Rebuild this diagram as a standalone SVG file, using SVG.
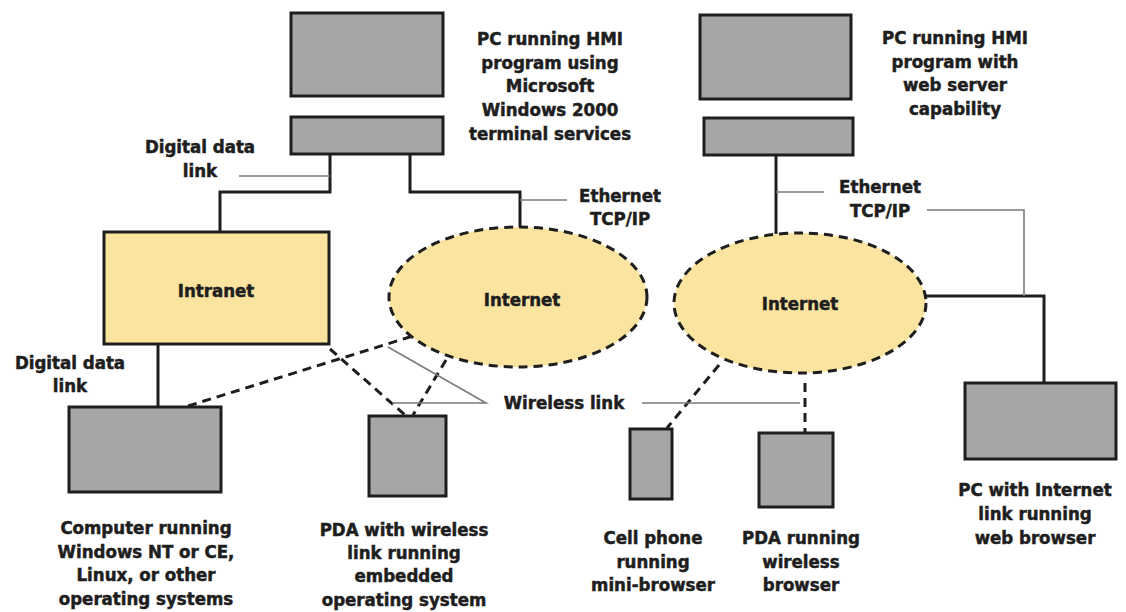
<svg xmlns="http://www.w3.org/2000/svg" width="1126" height="612" viewBox="0 0 1126 612">
<style>
.dev{fill:#a6a6a6;stroke:#1e1e1e;stroke-width:3}
.net{fill:#fbe4a0;stroke:#1e1e1e;stroke-width:3}
.cloud{fill:#fbe4a0;stroke:#1e1e1e;stroke-width:3;stroke-dasharray:9 6}
.wire{fill:none;stroke:#1e1e1e;stroke-width:3}
.dash{fill:none;stroke:#1e1e1e;stroke-width:3;stroke-dasharray:9 6}
.lead{fill:none;stroke:#7a7a7a;stroke-width:1.6}
text{font-family:"DejaVu Sans Condensed","DejaVu Sans",sans-serif;font-weight:bold;font-size:18.5px;fill:#1e1e1e;stroke:#1e1e1e;stroke-width:0.5;text-anchor:middle}
</style>
<rect width="1126" height="612" fill="#ffffff"/>
<g id="connectors">
<polyline class="wire" points="330,154 330,192 220,192 220,232"/>
<polyline class="wire" points="410,154 410,192 520,192 520,228"/>
<line class="wire" x1="776" y1="155" x2="776" y2="234"/>
<polyline class="wire" points="925,296 1044,296 1044,383"/>
<line class="wire" x1="158" y1="344" x2="158" y2="407"/>
<line class="dash" x1="188" y1="406" x2="413" y2="336"/>
<line class="dash" x1="330" y1="349" x2="405" y2="415"/>
<line class="dash" x1="446" y1="360" x2="413" y2="415"/>
<line class="dash" x1="719" y1="365" x2="667" y2="428"/>
<line class="dash" x1="805" y1="383" x2="805" y2="432"/>
<line class="lead" x1="239" y1="176" x2="330" y2="176"/>
<line class="lead" x1="520" y1="200" x2="567" y2="200"/>
<line class="lead" x1="776" y1="192" x2="824" y2="192"/>
<polyline class="lead" points="927,210 1024,210 1024,296"/>
<polyline class="lead" points="388,347 486,403 392,403"/>
<line class="lead" x1="642" y1="403" x2="800" y2="403"/>
</g>
<g id="pc-hmi-terminal">
<rect class="dev" x="291" y="13" width="152" height="83"/>
<rect class="dev" x="291" y="117" width="152" height="37"/>
<text x="550" y="45">PC running HMI</text>
<text x="550" y="69">program using</text>
<text x="550" y="92">Microsoft</text>
<text x="550" y="116">Windows 2000</text>
<text x="550" y="140">terminal services</text>
</g>
<g id="pc-hmi-web">
<rect class="dev" x="700" y="15" width="151" height="84"/>
<rect class="dev" x="704" y="118" width="149" height="37"/>
<text x="955" y="44">PC running HMI</text>
<text x="955" y="68">program with</text>
<text x="955" y="91">web server</text>
<text x="955" y="115">capability</text>
</g>
<g id="label-ddl-top"><text x="200" y="153">Digital data</text><text x="200" y="177">link</text></g>
<g id="label-eth-left"><text x="620" y="202">Ethernet</text><text x="620" y="225">TCP/IP</text></g>
<g id="label-eth-right"><text x="880" y="193">Ethernet</text><text x="880" y="217">TCP/IP</text></g>
<g id="label-ddl-bottom"><text x="70" y="369">Digital data</text><text x="70" y="392">link</text></g>
<g id="label-wireless"><text x="564" y="409">Wireless link</text></g>
<g id="intranet">
<rect class="net" x="104" y="232" width="225" height="112"/>
<text x="216" y="297">Intranet</text>
</g>
<g id="internet-left">
<ellipse class="cloud" cx="518" cy="297" rx="129" ry="70"/>
<text x="522" y="306">Internet</text>
</g>
<g id="internet-right">
<ellipse class="cloud" cx="800" cy="303" rx="126" ry="70"/>
<text x="800" y="310">Internet</text>
</g>
<g id="computer">
<rect class="dev" x="69" y="407" width="152" height="85"/>
<text x="146" y="534">Computer running</text>
<text x="146" y="558">Windows NT or CE,</text>
<text x="146" y="581">Linux, or other</text>
<text x="146" y="605">operating systems</text>
</g>
<g id="pda-embedded">
<rect class="dev" x="369" y="416" width="77" height="80"/>
<text x="404" y="536">PDA with wireless</text>
<text x="404" y="559">link running</text>
<text x="404" y="582">embedded</text>
<text x="404" y="606">operating system</text>
</g>
<g id="cell-phone">
<rect class="dev" x="630" y="429" width="42" height="70"/>
<text x="653" y="544">Cell phone</text>
<text x="653" y="568">running</text>
<text x="653" y="591">mini-browser</text>
</g>
<g id="pda-browser">
<rect class="dev" x="759" y="433" width="74" height="74"/>
<text x="801" y="544">PDA running</text>
<text x="801" y="568">wireless</text>
<text x="801" y="591">browser</text>
</g>
<g id="pc-browser">
<rect class="dev" x="965" y="383" width="151" height="76"/>
<text x="1035" y="496">PC with Internet</text>
<text x="1035" y="520">link running</text>
<text x="1035" y="544">web browser</text>
</g>
</svg>
